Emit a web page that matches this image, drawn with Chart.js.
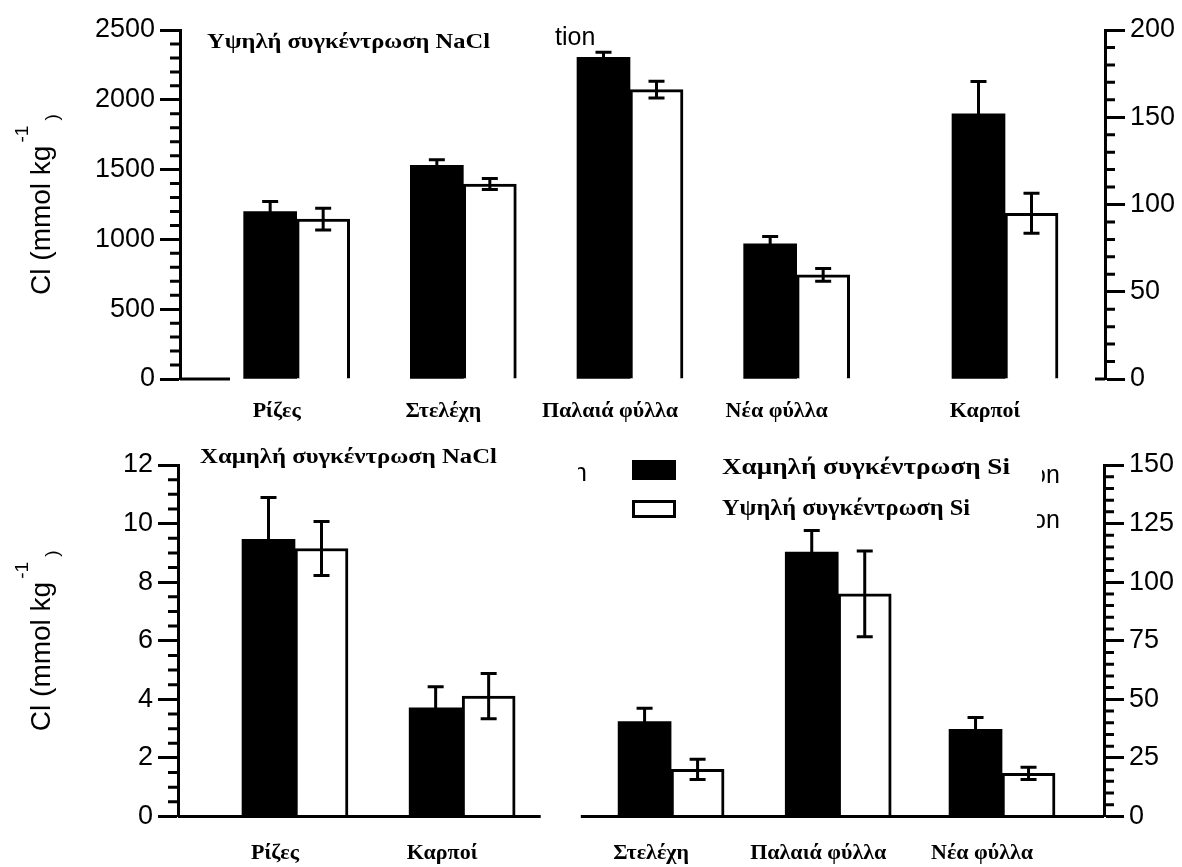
<!DOCTYPE html>
<html>
<head>
<meta charset="utf-8">
<script src="https://cdn.jsdelivr.net/npm/chart.js@4.4.1/dist/chart.umd.min.js"></script>
<style>
  html, body { margin: 0; padding: 0; background: #fff; }
  #wrap { position: relative; width: 1182px; height: 867px; }
  canvas { position: absolute; left: 0; }
  #topPanel { top: 0; }
  #bottomPanel { top: 433px; }
</style>
</head>
<body>
<div id="wrap">
  <canvas id="topPanel" width="1182" height="433"></canvas>
  <canvas id="bottomPanel" width="1182" height="434"></canvas>
</div>
<script>
// Cl content of plant organs (mmol kg-1) under two Si levels.
// Upper panel: high NaCl; lower panel: low NaCl.

const LOW_SI = 'Χαμηλή συγκέντρωση Si';
const HIGH_SI = 'Υψηλή συγκέντρωση Si';

// ---- upper panel: high NaCl ----
const topCategories = ['Ρίζες', 'Στελέχη', 'Παλαιά φύλλα', 'Νέα φύλλα', 'Καρποί'];
const topSlots = [0, 1, 2, 3, 4.25];               // category slots along the x axis
const topAxisSide = ['left', 'left', 'left', 'left', 'right'];
const topLowSi = [1200, 1530, 2305, 968, 152];
const topLowSiErr = [72, 41, 36, 52, 18.5];
const topHighSi = [1146, 1397, 2073, 746, 95];
const topHighSiErr = [78, 40, 60, 45, 11.5];
const topLeftTicks = { max: 2500, major: 500, minor: 100 };
const topRightTicks = { max: 200, major: 50, minor: 10 };

// ---- lower panel: low NaCl ----
const bottomCategories = ['Ρίζες', 'Καρποί', 'Στελέχη', 'Παλαιά φύλλα', 'Νέα φύλλα'];
const bottomSlots = [0, 1, 2.25, 3.25, 4.23];
const bottomAxisSide = ['left', 'left', 'right', 'right', 'right'];
const bottomLowSi = [9.46, 3.71, 40.5, 112.8, 37.2];
const bottomLowSiErr = [1.43, 0.72, 5.7, 9.2, 5.1];
const bottomHighSi = [9.15, 4.11, 20.1, 95.0, 18.4];
const bottomHighSiErr = [0.92, 0.77, 4.3, 18.3, 2.6];
const bottomLeftTicks = { max: 12, major: 2, minor: 0.5 };
const bottomRightTicks = { max: 150, major: 25, minor: 5 };

const SANS = '"Liberation Sans", Arial, sans-serif';
const SERIF = '"Liberation Serif", "Times New Roman", serif';

// text squeezed/stretched horizontally to a given width
function fitText(ctx, text, x, y, font, width) {
  ctx.save();
  ctx.font = font;
  ctx.fillStyle = '#000';
  ctx.textAlign = 'left';
  ctx.textBaseline = 'alphabetic';
  const w = ctx.measureText(text).width;
  ctx.translate(x, y);
  if (width) ctx.scale(width / w, 1);
  ctx.fillText(text, 0, 0);
  ctx.restore();
}

// rotated axis title with superscript exponent
function drawYTitle(ctx, cx, cy) {
  const main = 'Cl (mmol kg', sup = '-1', close = ' )';
  ctx.save();
  ctx.translate(cx, cy);
  ctx.rotate(-Math.PI / 2);
  ctx.fillStyle = '#000';
  ctx.textAlign = 'left';
  ctx.textBaseline = 'alphabetic';
  ctx.font = '28px ' + SANS;
  const w1 = ctx.measureText(main).width;
  ctx.font = '19px ' + SANS;
  const w2 = ctx.measureText(sup).width;
  const w3 = ctx.measureText(close).width;
  let x = -(w1 + w2 + w3 + 3) / 2;
  ctx.font = '28px ' + SANS;
  ctx.fillText(main, x, 0);
  x += w1 + 3;
  ctx.font = '19px ' + SANS;
  ctx.fillText(sup, x, -22);
  x += w2;
  ctx.fillText(close, x, 8);
  ctx.restore();
}

// fragment of a word, visible only right of clipX
function clippedText(ctx, text, x, y, clipX) {
  ctx.save();
  ctx.beginPath();
  ctx.rect(clipX, y - 30, 200, 40);
  ctx.clip();
  ctx.font = '25px ' + SANS;
  ctx.fillStyle = '#000';
  ctx.textBaseline = 'alphabetic';
  ctx.fillText(text, x, y);
  ctx.restore();
}

const panelDecor = {
  id: 'panelDecor',
  afterDatasetsDraw(chart) {
    const ctx = chart.ctx;
    chart.data.datasets.forEach((ds, di) => {
      const meta = chart.getDatasetMeta(di);
      const ys = chart.scales[ds.yAxisID];
      meta.data.forEach((bar, j) => {
        const p = ds.data[j];
        const x = bar.x;
        const y1 = ys.getPixelForValue(p.y + p.err);
        const y2 = ys.getPixelForValue(p.y - p.err);
        ctx.save();
        ctx.strokeStyle = '#000';
        ctx.lineWidth = 3;
        ctx.beginPath();
        ctx.moveTo(x, y1); ctx.lineTo(x, y2);
        ctx.moveTo(x - 8, y1); ctx.lineTo(x + 8, y1);
        ctx.moveTo(x - 8, y2); ctx.lineTo(x + 8, y2);
        ctx.stroke();
        ctx.restore();
      });
    });
  },
  afterDraw(chart, args, opts) {
    const ctx = chart.ctx;
    const area = chart.chartArea;
    ctx.save();
    ctx.strokeStyle = '#000';
    ctx.lineWidth = 3;

    // minor ticks on both value axes
    ['yL', 'yR'].forEach(id => {
      const s = chart.scales[id];
      const step = opts.minor[id];
      const major = s.options.ticks.stepSize;
      const x0 = id === 'yL' ? s.right : s.left;
      const dir = id === 'yL' ? -1 : 1;
      ctx.beginPath();
      for (let k = 0; k * step <= s.max + 1e-9; k++) {
        const v = k * step;
        const r = v / major;
        if (Math.abs(r - Math.round(r)) < 1e-6) continue;
        const y = s.getPixelForValue(v);
        ctx.moveTo(x0, y);
        ctx.lineTo(x0 + dir * 10, y);
      }
      ctx.stroke();
    });

    // broken category axis baseline
    const xs = chart.scales.x;
    const y0 = chart.scales.yL.getPixelForValue(0);
    ctx.beginPath();
    opts.baseline.forEach(([a, b]) => {
      ctx.moveTo(xs.getPixelForValue(a), y0);
      ctx.lineTo(xs.getPixelForValue(b), y0);
    });
    ctx.stroke();
    ctx.restore();

    // panel title
    fitText(ctx, opts.title.text, opts.title.x, opts.title.y, 'bold 22px ' + SERIF, opts.title.width);

    // value axis title
    drawYTitle(ctx, 50, (area.top + area.bottom) / 2);

    // legend
    if (opts.legend) {
      const L = opts.legend;
      const dsLow = chart.data.datasets[0], dsHigh = chart.data.datasets[1];
      ctx.save();
      ctx.fillStyle = dsLow.backgroundColor;
      ctx.fillRect(L.x, L.y1, 44, 20);
      ctx.fillStyle = dsHigh.backgroundColor;
      ctx.fillRect(L.x, L.y2, 44, 18);
      ctx.strokeStyle = dsHigh.borderColor;
      ctx.lineWidth = 3;
      ctx.strokeRect(L.x + 1.5, L.y2 + 1.5, 41, 15);
      ctx.restore();
      fitText(ctx, dsLow.label, L.textX, L.y1 + 14, 'bold 23px ' + SERIF, 288);
      fitText(ctx, dsHigh.label, L.textX, L.y2 + 15, 'bold 23px ' + SERIF, 248);
    }

    // partially covered words
    (opts.fragments || []).forEach(f => clippedText(ctx, f.text, f.x, f.y, f.clip));
  }
};

function buildDatasets(slots, sides, low, lowErr, high, highErr) {
  const sets = [];
  ['left', 'right'].forEach(side => {
    const idx = slots.map((_, i) => i).filter(i => sides[i] === side);
    if (!idx.length) return;
    const yAxisID = side === 'left' ? 'yL' : 'yR';
    sets.push({
      label: LOW_SI, stack: 'low', yAxisID,
      data: idx.map(i => ({ x: slots[i], y: low[i], err: lowErr[i] })),
      backgroundColor: '#000', borderColor: '#000', borderWidth: 0
    });
    sets.push({
      label: HIGH_SI, stack: 'high', yAxisID,
      data: idx.map(i => ({ x: slots[i], y: high[i], err: highErr[i] })),
      backgroundColor: '#fff', borderColor: '#000', borderWidth: 3, borderSkipped: 'start'
    });
  });
  return sets;
}

function valueAxis(position, t, width) {
  return {
    type: 'linear', position, min: 0, max: t.max, stacked: false,
    ticks: {
      stepSize: t.major, padding: 5, color: '#000', font: { family: SANS, size: 27 },
      callback: v => String(v)
    },
    grid: { drawOnChartArea: false, drawTicks: true, tickLength: 20, tickWidth: 3, tickColor: '#000' },
    border: { display: true, color: '#000', width: 3 },
    afterFit: s => { s.width = width; }
  };
}

function makePanel(canvasId, p) {
  return new Chart(document.getElementById(canvasId), {
    type: 'bar',
    data: { datasets: buildDatasets(p.slots, p.sides, p.low, p.lowErr, p.high, p.highErr) },
    options: {
      responsive: false, animation: false, devicePixelRatio: 1,
      layout: { padding: { top: p.areaTop, left: 0, right: 0, bottom: 0 } },
      datasets: { bar: { barThickness: 53, grouped: true } },
      plugins: {
        legend: { display: false }, tooltip: { enabled: false },
        panelDecor: {
          minor: { yL: p.leftTicks.minor, yR: p.rightTicks.minor },
          baseline: p.baseline, title: p.title, legend: p.legend, fragments: p.fragments
        }
      },
      scales: {
        x: {
          type: 'linear', min: p.xMin, max: p.xMax, offset: false,
          grid: { display: false, drawTicks: false },
          border: { display: false },
          afterBuildTicks: s => { s.ticks = p.slots.map(v => ({ value: v })); },
          afterFit: s => { s.height = p.xHeight; },
          ticks: {
            autoSkip: false, maxRotation: 0, minRotation: 0, padding: p.labelPad, labelOffset: -20,
            color: '#000', font: { family: SERIF, weight: 'bold', size: 22 },
            callback: (v, i) => p.categories[i]
          }
        },
        yL: valueAxis('left', p.leftTicks, p.leftWidth),
        yR: valueAxis('right', p.rightTicks, p.rightWidth)
      }
    },
    plugins: [panelDecor]
  });
}

makePanel('topPanel', {
  categories: topCategories, slots: topSlots, sides: topAxisSide,
  low: topLowSi, lowErr: topLowSiErr, high: topHighSi, highErr: topHighSiErr,
  leftTicks: topLeftTicks, rightTicks: topRightTicks,
  areaTop: 30, xHeight: 54, leftWidth: 180, rightWidth: 77, labelPad: 19,
  xMin: -0.70, xMax: 4.85,
  baseline: [[-0.70, -0.40], [4.79, 4.85]],
  title: { text: 'Υψηλή συγκέντρωση NaCl', x: 207, y: 48, width: 283 },
  fragments: [{ text: 'tion', x: 555, y: 45, clip: 550 }]
});

makePanel('bottomPanel', {
  categories: bottomCategories, slots: bottomSlots, sides: bottomAxisSide,
  low: bottomLowSi, lowErr: bottomLowSiErr, high: bottomHighSi, highErr: bottomHighSiErr,
  leftTicks: bottomLeftTicks, rightTicks: bottomRightTicks,
  areaTop: 32, xHeight: 50.5, leftWidth: 178, rightWidth: 78, labelPad: 24,
  xMin: -0.70, xMax: 4.84,
  baseline: [[-0.70, 1.47], [1.71, 4.84]],
  title: { text: 'Χαμηλή συγκέντρωση NaCl', x: 200, y: 30, width: 297 },
  legend: { x: 632, y1: 27, y2: 67, textX: 722 },
  fragments: [
    { text: 'n', x: 573, y: 48, clip: 578 },
    { text: 'on', x: 1032, y: 50, clip: 1042 },
    { text: 'on', x: 1032, y: 95, clip: 1037 }
  ]
});
</script>
</body>
</html>
